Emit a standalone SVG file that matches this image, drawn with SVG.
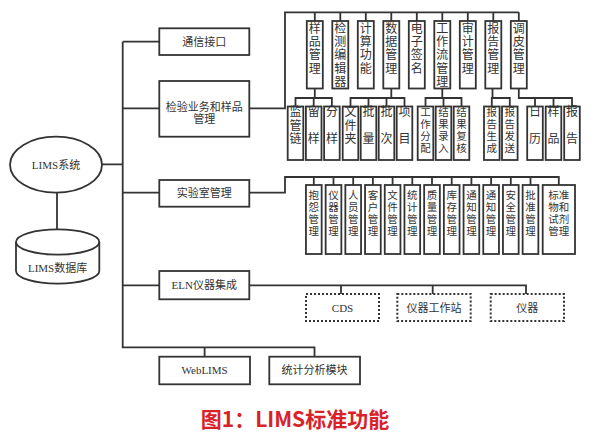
<svg xmlns="http://www.w3.org/2000/svg" width="600" height="435" viewBox="0 0 600 435">
<style>
.ln{fill:none;stroke:#333;stroke-width:1.8}
.bx{fill:#fff;stroke:#333;stroke-width:1.8}
.db{fill:#fff;stroke:#333;stroke-width:2;stroke-dasharray:2 2}
text{font-family:"Liberation Serif","Noto Sans CJK SC",serif;fill:#333;text-anchor:middle}
.m{font-size:11px}
.v{font-size:12px}
.f{font-size:10.5px}
.s{font-size:10.5px}
.title{font-family:"Noto Sans CJK SC","Noto Sans",sans-serif;font-size:21px;font-weight:700;fill:#d8222a}
</style>
<rect width="600" height="435" fill="#fff"/>
<g id="connectors" class="ln">
<path d="M101.7,164.3H122.7M122.7,41.7V347.3H314.5V356.7M204.6,347.3V356.7M122.7,41.7H159.3M122.7,108.3H159.3M122.7,192.7H159.3M122.7,285.3H159.3M57,192.7V229.3"/>
<path d="M249.3,108.3H285V12.3H518.8M314.8,12.3V21M340.3,12.3V21M365.8,12.3V21M391.3,12.3V21M416.8,12.3V21M442.3,12.3V21M467.8,12.3V21M493.3,12.3V21M518.8,12.3V21"/>
<path d="M314.8,88.5V98M295.5,106.5V98H331.9V106.5M313.7,98V106.5"/>
<path d="M391.3,88.5V98M350.5,106.5V98H404.5V106.5M368.5,98V106.5M386.5,98V106.5"/>
<path d="M442.3,88.5V98M425.5,106.5V98H461.5V106.5M443.5,98V106.5"/>
<path d="M492.5,88.5V98M491.8,106.5V98H509.8V106.5"/>
<path d="M518.8,88.5V98H572V106.5M535,98V106.5M553.5,98V106.5"/>
<path d="M249.3,192.7H285V177H558.8V185M313.8,177V185M333.5,177V185M353.2,177V185M372.9,177V185M392.6,177V185M412.3,177V185M432,177V185M451.7,177V185M471.4,177V185M491.1,177V185M510.8,177V185M530.5,177V185"/>
<path d="M249.3,285.3H526V294M341,285.3V294M432.7,285.3V294"/>
</g>
<g id="lims"><ellipse class="bx" cx="56" cy="164.7" rx="46" ry="28"/><text class="m" x="56" y="168.7">LIMS系统</text></g>
<g id="db"><path class="bx" d="M16,242A41.65,12.7 0 0 1 99.3,242V271A41.65,12.7 0 0 1 16,271Z"/><path class="ln" d="M16,242A41.65,12.7 0 0 0 99.3,242"/><text class="m" x="57.6" y="272.3">LIMS数据库</text></g>
<g id="comm"><rect class="bx" x="159.3" y="28.3" width="90" height="26.7"/><text class="m" x="204.3" y="45.7">通信接口</text></g>
<g id="biz"><rect class="bx" x="159.3" y="81" width="90" height="55.7"/><text class="m" x="204.3" y="110.9">检验业务和样品</text><text class="m" x="204.3" y="122.5">管理</text></g>
<g id="lab"><rect class="bx" x="159.3" y="180" width="90" height="26.7"/><text class="m" x="204.3" y="196.8">实验室管理</text></g>
<g id="eln"><rect class="bx" x="159.3" y="271" width="90" height="28.3"/><text class="m" x="204.3" y="289.4">ELN仪器集成</text></g>
<g id="web"><rect class="bx" x="159.3" y="356.7" width="90.7" height="27.6"/><text class="m" x="204.6" y="374.4">WebLIMS</text></g>
<g id="stat"><rect class="bx" x="269.3" y="356.7" width="90.7" height="27.6"/><text class="m" x="314.6" y="374.4">统计分析模块</text></g>
<g id="cds"><rect class="db" x="306" y="294" width="73" height="27"/><text class="m" x="342.5" y="311.5">CDS</text></g>
<g id="ws"><rect class="db" x="397.3" y="294" width="73.4" height="27"/><text class="m" x="434" y="311.5">仪器工作站</text></g>
<g id="inst"><rect class="db" x="490.7" y="294" width="73.3" height="27"/><text class="m" x="527.3" y="311.5">仪器</text></g>

<g id="t1"><rect class="bx" x="306.8" y="21" width="16" height="67.5"/><text class="v"><tspan x="314.8" y="32.9">样</tspan><tspan x="314.8" y="46.1">品</tspan><tspan x="314.8" y="59.3">管</tspan><tspan x="314.8" y="72.5">理</tspan></text></g>
<g id="t2"><rect class="bx" x="332.3" y="21" width="16" height="67.5"/><text class="v"><tspan x="340.3" y="32.9">检</tspan><tspan x="340.3" y="46.1">测</tspan><tspan x="340.3" y="59.3">编</tspan><tspan x="340.3" y="72.5">辑</tspan><tspan x="340.3" y="85.7">器</tspan></text></g>
<g id="t3"><rect class="bx" x="357.8" y="21" width="16" height="67.5"/><text class="v"><tspan x="365.8" y="32.9">计</tspan><tspan x="365.8" y="46.1">算</tspan><tspan x="365.8" y="59.3">功</tspan><tspan x="365.8" y="72.5">能</tspan></text></g>
<g id="t4"><rect class="bx" x="383.3" y="21" width="16" height="67.5"/><text class="v"><tspan x="391.3" y="32.9">数</tspan><tspan x="391.3" y="46.1">据</tspan><tspan x="391.3" y="59.3">管</tspan><tspan x="391.3" y="72.5">理</tspan></text></g>
<g id="t5"><rect class="bx" x="408.8" y="21" width="16" height="67.5"/><text class="v"><tspan x="416.8" y="32.9">电</tspan><tspan x="416.8" y="46.1">子</tspan><tspan x="416.8" y="59.3">签</tspan><tspan x="416.8" y="72.5">名</tspan></text></g>
<g id="t6"><rect class="bx" x="434.3" y="21" width="16" height="67.5"/><text class="v"><tspan x="442.3" y="32.9">工</tspan><tspan x="442.3" y="46.1">作</tspan><tspan x="442.3" y="59.3">流</tspan><tspan x="442.3" y="72.5">管</tspan><tspan x="442.3" y="85.7">理</tspan></text></g>
<g id="t7"><rect class="bx" x="459.8" y="21" width="16" height="67.5"/><text class="v"><tspan x="467.8" y="32.9">审</tspan><tspan x="467.8" y="46.1">计</tspan><tspan x="467.8" y="59.3">管</tspan><tspan x="467.8" y="72.5">理</tspan></text></g>
<g id="t8"><rect class="bx" x="485.3" y="21" width="16" height="67.5"/><text class="v"><tspan x="493.3" y="32.9">报</tspan><tspan x="493.3" y="46.1">告</tspan><tspan x="493.3" y="59.3">管</tspan><tspan x="493.3" y="72.5">理</tspan></text></g>
<g id="t9"><rect class="bx" x="510.8" y="21" width="16" height="67.5"/><text class="v"><tspan x="518.8" y="32.9">调</tspan><tspan x="518.8" y="46.1">皮</tspan><tspan x="518.8" y="59.3">管</tspan><tspan x="518.8" y="72.5">理</tspan></text></g>

<g id="b1"><rect class="bx" x="287.7" y="106.5" width="15.6" height="53.5"/><text class="v"><tspan x="295.5" y="116.3">监</tspan><tspan x="295.5" y="129.6">管</tspan><tspan x="295.5" y="142.9">链</tspan></text></g>
<g id="b2"><rect class="bx" x="305.9" y="106.5" width="15.6" height="53.5"/><text class="v"><tspan x="313.7" y="116.3">留</tspan><tspan x="313.7" y="142.9">样</tspan></text></g>
<g id="b3"><rect class="bx" x="324.1" y="106.5" width="15.6" height="53.5"/><text class="v"><tspan x="331.9" y="116.3">分</tspan><tspan x="331.9" y="142.9">样</tspan></text></g>
<g id="b4"><rect class="bx" x="342.7" y="106.5" width="15.6" height="53.5"/><text class="v"><tspan x="350.5" y="116.3">文</tspan><tspan x="350.5" y="129.6">件</tspan><tspan x="350.5" y="142.9">夹</tspan></text></g>
<g id="b5"><rect class="bx" x="360.7" y="106.5" width="15.6" height="53.5"/><text class="v"><tspan x="368.5" y="116.3">批</tspan><tspan x="368.5" y="142.9">量</tspan></text></g>
<g id="b6"><rect class="bx" x="378.7" y="106.5" width="15.6" height="53.5"/><text class="v"><tspan x="386.5" y="116.3">批</tspan><tspan x="386.5" y="142.9">次</tspan></text></g>
<g id="b7"><rect class="bx" x="396.7" y="106.5" width="15.6" height="53.5"/><text class="v"><tspan x="404.5" y="116.3">项</tspan><tspan x="404.5" y="142.9">目</tspan></text></g>
<g id="b8"><rect class="bx" x="417.7" y="106.5" width="15.6" height="53.5"/><text class="f"><tspan x="425.5" y="116">工</tspan><tspan x="425.5" y="128">作</tspan><tspan x="425.5" y="140">分</tspan><tspan x="425.5" y="152">配</tspan></text></g>
<g id="b9"><rect class="bx" x="435.7" y="106.5" width="15.6" height="53.5"/><text class="f"><tspan x="443.5" y="116">结</tspan><tspan x="443.5" y="128">果</tspan><tspan x="443.5" y="140">录</tspan><tspan x="443.5" y="152">入</tspan></text></g>
<g id="b10"><rect class="bx" x="453.7" y="106.5" width="15.6" height="53.5"/><text class="f"><tspan x="461.5" y="116">结</tspan><tspan x="461.5" y="128">果</tspan><tspan x="461.5" y="140">复</tspan><tspan x="461.5" y="152">核</tspan></text></g>
<g id="b11"><rect class="bx" x="484" y="106.5" width="15.6" height="53.5"/><text class="f"><tspan x="491.8" y="116">报</tspan><tspan x="491.8" y="128">告</tspan><tspan x="491.8" y="140">生</tspan><tspan x="491.8" y="152">成</tspan></text></g>
<g id="b12"><rect class="bx" x="502" y="106.5" width="15.6" height="53.5"/><text class="f"><tspan x="509.8" y="116">报</tspan><tspan x="509.8" y="128">告</tspan><tspan x="509.8" y="140">发</tspan><tspan x="509.8" y="152">送</tspan></text></g>
<g id="b13"><rect class="bx" x="527.2" y="106.5" width="15.6" height="53.5"/><text class="v"><tspan x="535" y="116.3">日</tspan><tspan x="535" y="142.9">历</tspan></text></g>
<g id="b14"><rect class="bx" x="545.7" y="106.5" width="15.6" height="53.5"/><text class="v"><tspan x="553.5" y="116.3">样</tspan><tspan x="553.5" y="142.9">品</tspan></text></g>
<g id="b15"><rect class="bx" x="564.2" y="106.5" width="15.6" height="53.5"/><text class="v"><tspan x="572" y="116.3">报</tspan><tspan x="572" y="142.9">告</tspan></text></g>

<g id="l1"><rect class="bx" x="305.95" y="185" width="15.7" height="69"/><text class="s"><tspan x="313.8" y="199.2">抱</tspan><tspan x="313.8" y="211">怨</tspan><tspan x="313.8" y="222.8">管</tspan><tspan x="313.8" y="234.6">理</tspan></text></g>
<g id="l2"><rect class="bx" x="325.65" y="185" width="15.7" height="69"/><text class="s"><tspan x="333.5" y="199.2">仪</tspan><tspan x="333.5" y="211">器</tspan><tspan x="333.5" y="222.8">管</tspan><tspan x="333.5" y="234.6">理</tspan></text></g>
<g id="l3"><rect class="bx" x="345.35" y="185" width="15.7" height="69"/><text class="s"><tspan x="353.2" y="199.2">人</tspan><tspan x="353.2" y="211">员</tspan><tspan x="353.2" y="222.8">管</tspan><tspan x="353.2" y="234.6">理</tspan></text></g>
<g id="l4"><rect class="bx" x="365.05" y="185" width="15.7" height="69"/><text class="s"><tspan x="372.9" y="199.2">客</tspan><tspan x="372.9" y="211">户</tspan><tspan x="372.9" y="222.8">管</tspan><tspan x="372.9" y="234.6">理</tspan></text></g>
<g id="l5"><rect class="bx" x="384.75" y="185" width="15.7" height="69"/><text class="s"><tspan x="392.6" y="199.2">文</tspan><tspan x="392.6" y="211">件</tspan><tspan x="392.6" y="222.8">管</tspan><tspan x="392.6" y="234.6">理</tspan></text></g>
<g id="l6"><rect class="bx" x="404.45" y="185" width="15.7" height="69"/><text class="s"><tspan x="412.3" y="199.2">统</tspan><tspan x="412.3" y="211">计</tspan><tspan x="412.3" y="222.8">管</tspan><tspan x="412.3" y="234.6">理</tspan></text></g>
<g id="l7"><rect class="bx" x="424.15" y="185" width="15.7" height="69"/><text class="s"><tspan x="432" y="199.2">质</tspan><tspan x="432" y="211">量</tspan><tspan x="432" y="222.8">管</tspan><tspan x="432" y="234.6">理</tspan></text></g>
<g id="l8"><rect class="bx" x="443.85" y="185" width="15.7" height="69"/><text class="s"><tspan x="451.7" y="199.2">库</tspan><tspan x="451.7" y="211">存</tspan><tspan x="451.7" y="222.8">管</tspan><tspan x="451.7" y="234.6">理</tspan></text></g>
<g id="l9"><rect class="bx" x="463.55" y="185" width="15.7" height="69"/><text class="s"><tspan x="471.4" y="199.2">通</tspan><tspan x="471.4" y="211">知</tspan><tspan x="471.4" y="222.8">管</tspan><tspan x="471.4" y="234.6">理</tspan></text></g>
<g id="l10"><rect class="bx" x="483.25" y="185" width="15.7" height="69"/><text class="s"><tspan x="491.1" y="199.2">通</tspan><tspan x="491.1" y="211">知</tspan><tspan x="491.1" y="222.8">管</tspan><tspan x="491.1" y="234.6">理</tspan></text></g>
<g id="l11"><rect class="bx" x="502.95" y="185" width="15.7" height="69"/><text class="s"><tspan x="510.8" y="199.2">安</tspan><tspan x="510.8" y="211">全</tspan><tspan x="510.8" y="222.8">管</tspan><tspan x="510.8" y="234.6">理</tspan></text></g>
<g id="l12"><rect class="bx" x="522.65" y="185" width="15.7" height="69"/><text class="s"><tspan x="530.5" y="199.2">批</tspan><tspan x="530.5" y="211">准</tspan><tspan x="530.5" y="222.8">管</tspan><tspan x="530.5" y="234.6">理</tspan></text></g>
<g id="l13"><rect class="bx" x="542.7" y="185" width="32.3" height="69"/><text class="s"><tspan x="558.8" y="199.2">标准</tspan><tspan x="558.8" y="211">物和</tspan><tspan x="558.8" y="222.8">试剂</tspan><tspan x="558.8" y="234.6">管理</tspan></text></g>

<text class="title" x="295" y="427">图1：LIMS标准功能</text>
</svg>
